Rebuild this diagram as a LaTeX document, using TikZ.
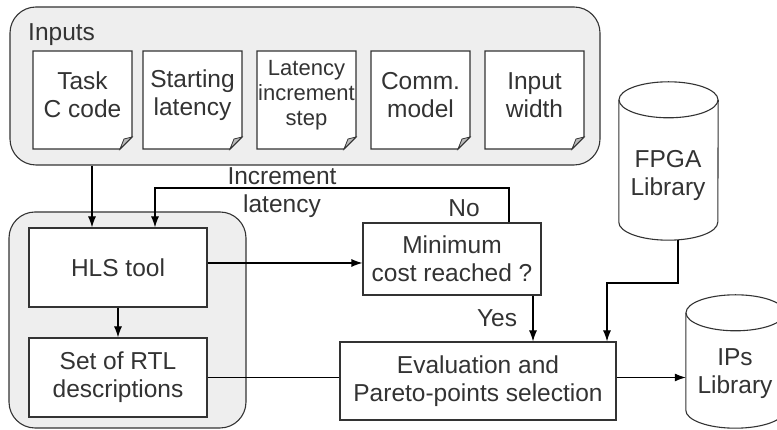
\documentclass[tikz,border=0pt]{standalone}
\usepackage{fontspec}
\setmainfont{Liberation Sans}
\usetikzlibrary{arrows.meta}

\definecolor{groupfill}{HTML}{EEEEEE}
\definecolor{linegrey}{HTML}{333333}
\definecolor{foldgrey}{HTML}{BBBBBB}

\tikzset{
  txt/.style={text=linegrey, align=center, inner sep=1pt, font=\fontsize{24.5}{28}\selectfont},
  group/.style={draw=linegrey, fill=groupfill, rounded corners=26, line width=1.1pt},
  box/.style={txt, draw=linegrey, fill=white, line width=1.1pt},
  docline/.style={draw=linegrey, fill=white, line width=1.1pt},
  cylline/.style={draw=linegrey, fill=white, line width=1.1pt},
  arr/.style={-{Latex[length=11pt,width=8pt]}, line width=1.1pt, black},
}

\begin{document}
\begin{tikzpicture}[x=1pt, y=1pt]
\useasboundingbox (0,0) rectangle (777,430);
\clip (0,0) rectangle (777,430);

% inputs
\node[group, minimum width=590, minimum height=158] (inputs) at (305,344) {};
\node[txt, anchor=west] (inputslabel) at (27,395) {Inputs};

\foreach \x in {82.5,192.5,306.5,420.5,534.5} {
  \draw[docline] (\x-49.5,379) -- (\x+49.5,379) -- (\x+49.5,293) -- (\x+37.5,281) -- (\x-49.5,281) -- cycle;
  \draw[draw=linegrey, fill=foldgrey, line width=0.8pt] (\x+49.5,293) -- (\x+37.5,281) -- (\x+41.5,291) -- cycle;
}
\node[txt] (taskcode) at (82.5,335) {Task\\C code};
\node[txt] (startlat) at (192.5,335) {Starting\\latency};
\node[txt, font=\fontsize{22}{25}\selectfont] (incstep) at (306.5,335) {Latency\\increment\\step};
\node[txt] (commmodel) at (420.5,335) {Comm.\\model};
\node[txt] (inwidth) at (534.5,335) {Input\\width};

% HLS flow
\node[group, minimum width=237, minimum height=216] (hlsgroup) at (127.5,110) {};
\node[box, minimum width=178, minimum height=79] (hls) at (118,162.5) {HLS tool};
\node[box, minimum width=178, minimum height=79] (rtl) at (118,52.5) {Set of RTL\\descriptions};
\node[box, minimum width=178, minimum height=72] (mincost) at (452,171) {Minimum\\cost reached ?};
\node[box, minimum width=276, minimum height=78] (eval) at (478,49) {Evaluation and\\Pareto-points selection};

% libraries
\node[minimum width=99, minimum height=158, inner sep=0] (fpga) at (668.5,269) {};
\draw[cylline] ([yshift=-18]fpga.north west) -- ([yshift=18]fpga.south west)
  arc[start angle=180, end angle=360, x radius=49.5, y radius=18] -- ([yshift=-18]fpga.north east);
\draw[cylline] ([yshift=-18]fpga.north) ellipse[x radius=49.5, y radius=18];
\node[txt] (fpgatext) at (668,255) {FPGA\\Library};

\node[minimum width=99, minimum height=133, inner sep=0] (ips) at (735.5,68.5) {};
\draw[cylline] ([yshift=-18]ips.north west) -- ([yshift=18]ips.south west)
  arc[start angle=180, end angle=360, x radius=49.5, y radius=18] -- ([yshift=-18]ips.north east);
\draw[cylline] ([yshift=-18]ips.north) ellipse[x radius=49.5, y radius=18];
\node[txt] (ipstext) at (735,56.5) {IPs\\Library};

% connectors
\draw[arr] (92,0 |- inputs.south) -- (92,0 |- hls.north);
\draw[arr] (hls.south) -- (rtl.north);
\draw[arr] (hls.east |- 0,167) -- (mincost.west |- 0,167);
\draw[arr] (509,0 |- mincost.north) |- (155,242) -- (155,0 |- hls.north);
\node[txt] (inclabel) at (282,237.5) {Increment\\latency};
\node[txt] (nolabel) at (464,222) {No};
\draw[arr] (533,0 |- mincost.south) -- (533,0 |- eval.north);
\node[txt] (yeslabel) at (497,112) {Yes};
\draw[arr] (678,0 |- fpga.south) |- (607,147) -- (607,0 |- eval.north);
\draw[line width=1.1pt] (rtl.east) -- (rtl.east -| eval.west);
\draw[arr] (rtl.east -| eval.east) -- (rtl.east -| ips.west);
\end{tikzpicture}
\end{document}
